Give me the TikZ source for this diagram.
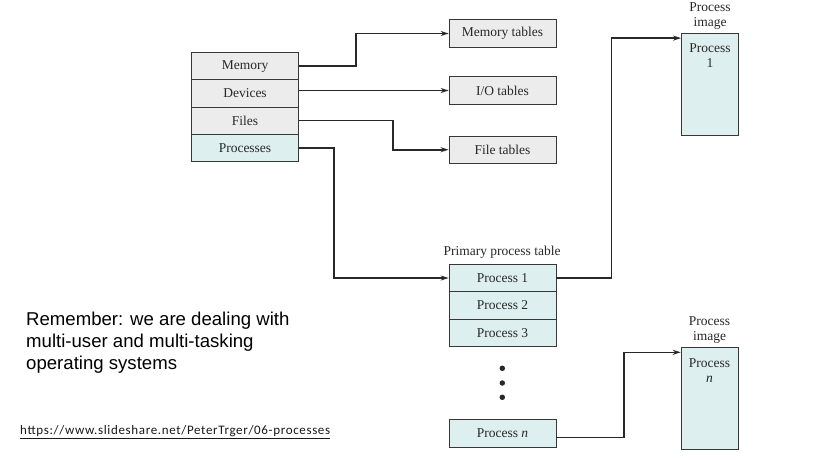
\documentclass[tikz,border=0pt]{standalone}
\usepackage{fontspec}
\setmainfont{Liberation Serif}
\newfontfamily\arialf{Liberation Sans}
\newfontfamily\calf[LetterSpace=5]{Carlito}
\usetikzlibrary{arrows.meta,calc}

\definecolor{boxgray}{RGB}{236,236,236}
\definecolor{boxcyan}{RGB}{221,239,239}
\definecolor{edgec}{RGB}{55,55,55}
\definecolor{inkc}{RGB}{40,40,40}

\tikzset{
 cell/.style={draw=edgec, line width=0.8pt, minimum width=107pt, minimum height=27.3pt, inner sep=0pt, font=\fontsize{13.5}{15}\selectfont, text=inkc},
 graycell/.style={cell, fill=boxgray},
 cyancell/.style={cell, fill=boxcyan},
 imgbox/.style={draw=edgec, line width=0.8pt, fill=boxcyan, minimum width=57pt, minimum height=102pt, inner sep=0pt},
 lbl/.style={font=\fontsize{13.5}{15}\selectfont, text=inkc, align=center, inner sep=0pt},
 conn/.style={draw=inkc, line width=1.6pt, -{Stealth[length=8pt,width=5pt]}},
 dotc/.style={circle, fill=inkc, inner sep=0pt, minimum size=5.5pt},
 note/.style={font=\arialf\fontsize{18.6}{22}\selectfont, align=left, anchor=west, inner sep=0pt, text=black},
 link/.style={font=\calf\fontsize{13}{14}\selectfont, anchor=west, inner sep=0pt, text=black!90},
}

\begin{document}
\begin{tikzpicture}[x=1pt,y=-1pt]
\useasboundingbox[fill=white] (0,0) rectangle (838,459);

% left table
\node[graycell] (mem) at (245,66.1) {Memory};
\node[graycell] (dev) at (245,93.4) {Devices};
\node[graycell] (fil) at (245,120.6) {Files};
\node[cyancell] (prc) at (245,147.9) {Processes};

% right tables
\node[graycell] (memt) at (502.5,33.5) {Memory tables};
\node[graycell] (iot) at (502.5,90.5) {I/O tables};
\node[graycell] (filt) at (502.5,149.7) {File tables};

% primary process table
\node[lbl] (ptt) at (502,252.3) {Primary process table};
\node[cyancell] (p1) at (502.5,278) {Process 1};
\node[cyancell] (p2) at (502.5,305.3) {Process 2};
\node[cyancell] (p3) at (502.5,332.6) {Process 3};
\node[dotc] (d1) at (502.3,368.3) {};
\node[dotc] (d2) at (502.3,383) {};
\node[dotc] (d3) at (502.3,397.3) {};
\node[cyancell, minimum height=28pt] (pn) at (502.5,433.3) {Process \textit{n}};

% process images
\node[imgbox] (img1) at (710,84.5) {};
\node[lbl] (img1t) at (710,16.5) {Process\\image};
\node[lbl] (img1i) at (710,56) {Process\\1};
\node[imgbox] (imgn) at (709.6,398.3) {};
\node[lbl] (imgnt) at (709.6,330) {Process\\image};
\node[lbl] (imgni) at (709.6,370.5) {Process\\\textit{n}};

% connectors
\draw[conn] (mem.east) -- ++(56.8,0) |- (memt.west);
\draw[conn] (dev.east |- iot.west) -- (iot.west);
\draw[conn] (fil.east) -- ++(93.8,0) |- (filt.west);
\draw[conn] (prc.east) -- ++(34.8,0) |- (p1.west);
\draw[conn] (p1.east) -- ++(55,0) |- ($(img1.north west)+(0,5)$);
\draw[conn] ($(pn.east)+(0,4)$) -- ++(67.3,0) |- ($(imgn.north west)+(0,5.4)$);

% texts
\node[note] (rem) at (26,342.5) {Remember: we are dealing with\\multi-user and multi-tasking\\operating systems};
\node[link] (url) at (20,432) {\underline{https://www.slideshare.net/PeterTrger/06-processes}};
\end{tikzpicture}
\end{document}
